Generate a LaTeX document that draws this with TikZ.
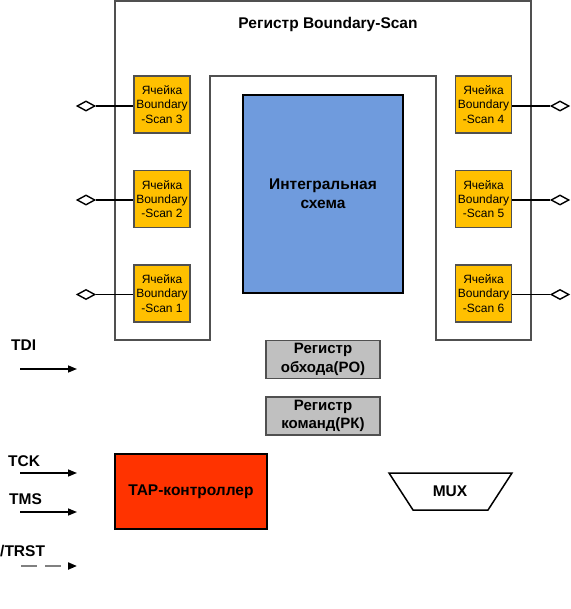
\documentclass[tikz,border=0pt]{standalone}
\usepackage{fontspec}
\setmainfont{Liberation Sans}
\usetikzlibrary{shapes.geometric,arrows.meta}
\definecolor{cellc}{HTML}{FFC000}
\definecolor{icc}{HTML}{6F9BDD}
\definecolor{regc}{HTML}{C0C0C0}
\definecolor{tapc}{HTML}{FF3300}
\definecolor{framec}{HTML}{505050}
\begin{document}
\begin{tikzpicture}[x=1pt,y=-1pt,
  cellbox/.style={draw=framec,line width=1.5pt,fill=cellc,minimum width=56pt,minimum height=57pt,inner sep=0pt,align=center,font=\fontsize{12}{14.2}\selectfont},
  pinnode/.style={diamond,draw=black,line width=1.4pt,fill=white,minimum width=18pt,minimum height=10pt,inner sep=0pt},
  wire/.style={draw=black,line width=1.5pt},
  regbox/.style={draw=framec,line width=1.8pt,fill=regc,minimum width=114pt,minimum height=38pt,inner sep=0pt,align=center,font=\bfseries\fontsize{15}{18.5}\selectfont},
  lbl/.style={anchor=west,inner sep=0pt,font=\bfseries\fontsize{15.5}{18}\selectfont},
  tipx/.tip={Triangle[length=9pt,width=7pt]},
  sig/.style={line width=1.5pt,-tipx}
]
\useasboundingbox (0,0) rectangle (570,609);
% Boundary-Scan register (U shape)
\draw[draw=framec,line width=1.8pt] (115,1) -- (531,1) -- (531,340) -- (436,340) -- (436,76) -- (210,76) -- (210,340) -- (115,340) -- cycle;
\node[font=\bfseries\fontsize{15.5}{18}\selectfont] (title) at (328,24) {Регистр Boundary-Scan};
% IC
\node[draw=black,line width=1.6pt,fill=icc,minimum width=160pt,minimum height=198pt,inner sep=0pt,align=center,font=\bfseries\fontsize{15.5}{19}\selectfont] (ic) at (323,194) {Интегральная\\схема};
% cells
\node[cellbox] (c3) at (162,104.5) {Ячейка\\Boundary\\-Scan 3};
\node[cellbox] (c2) at (162,199) {Ячейка\\Boundary\\-Scan 2};
\node[cellbox] (c1) at (162,293.5) {Ячейка\\Boundary\\-Scan 1};
\node[cellbox] (c4) at (483.5,104.5) {Ячейка\\Boundary\\-Scan 4};
\node[cellbox] (c5) at (483.5,199) {Ячейка\\Boundary\\-Scan 5};
\node[cellbox] (c6) at (483.5,293.5) {Ячейка\\Boundary\\-Scan 6};
% pins
\node[pinnode] (p3) at (86,106) {};
\node[pinnode] (p2) at (86,200) {};
\node[pinnode] (p1) at (86,294.5) {};
\node[pinnode] (p4) at (560,106) {};
\node[pinnode] (p5) at (560,200) {};
\node[pinnode] (p6) at (560,294.5) {};
\draw[wire] (p3.east) -- (p3.east -| c3.west);
\draw[wire] (p2.east) -- (p2.east -| c2.west);
\draw[wire] (p1.east) -- (p1.east -| c1.west);
\draw[wire] (p4.west) -- (p4.west -| c4.east);
\draw[wire] (p5.west) -- (p5.west -| c5.east);
\draw[wire] (p6.west) -- (p6.west -| c6.east);
% registers
\node[regbox] (ro) at (323,359.5) {Регистр\\обхода(РО)};
\node[regbox] (rk) at (323,416) {Регистр\\команд(РК)};
% TAP
\node[draw=black,line width=1.6pt,fill=tapc,minimum width=152pt,minimum height=75pt,inner sep=0pt,font=\bfseries\fontsize{15.5}{18}\selectfont] (tap) at (191,491.5) {TAP-контроллер};
% MUX
\node[font=\bfseries\fontsize{15.5}{18}\selectfont] (mux) at (450,491) {MUX};
\draw[line width=1.5pt] (389,473) -- (512,473) -- (488,510) -- (413,510) -- cycle;
% signals
\node[lbl] (tdi) at (11,345) {TDI};
\node[lbl] (tck) at (8,461) {TCK};
\node[lbl] (tms) at (9,499) {TMS};
\node[lbl] (trst) at (0,551) {/TRST};
\coordinate (tdia) at (20,369); \coordinate (tdib) at (77,369);
\coordinate (tcka) at (20,473); \coordinate (tckb) at (77,473);
\coordinate (tmsa) at (20,512); \coordinate (tmsb) at (77,512);
\coordinate (trsta) at (21,566); \coordinate (trstb) at (77,566);
\draw[sig] (tdia) -- (tdib);
\draw[sig] (tcka) -- (tckb);
\draw[sig] (tmsa) -- (tmsb);
\draw[line width=2pt,draw=gray,dash pattern=on 16pt off 8pt,-{Triangle[length=9pt,width=7pt,color=black]}] (trsta) -- (trstb);
\end{tikzpicture}
\end{document}
